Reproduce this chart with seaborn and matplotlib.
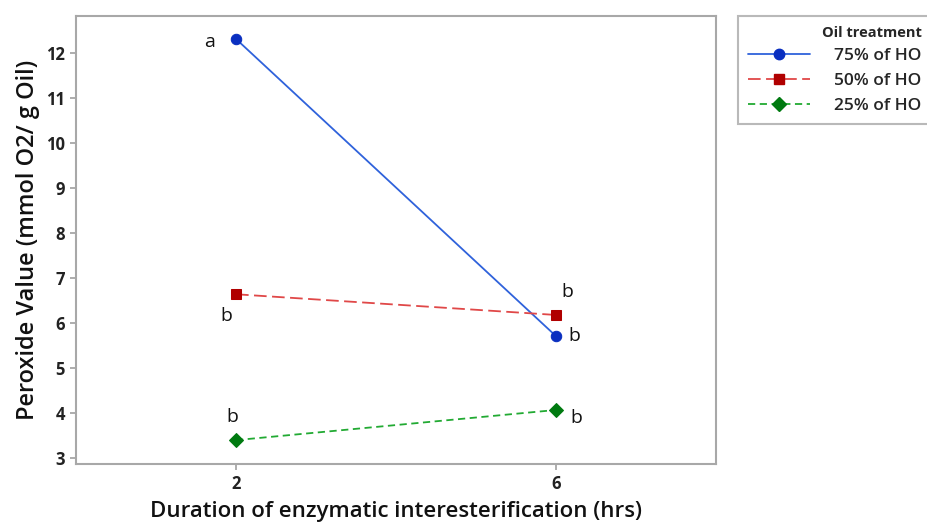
import matplotlib
matplotlib.use("Agg")
import matplotlib.pyplot as plt
import seaborn as sns
import pandas as pd
from matplotlib.lines import Line2D

# Peroxide value by duration of enzymatic interesterification
durations = [2, 6]
treatments = ["75% of HO", "50% of HO", "25% of HO"]
pv_75 = [12.31, 5.71]
pv_50 = [6.64, 6.18]
pv_25 = [3.40, 4.07]
letters_75 = ["a", "b"]
letters_50 = ["b", "b"]
letters_25 = ["b", "b"]

series = {"75% of HO": pv_75, "50% of HO": pv_50, "25% of HO": pv_25}
letters = {"75% of HO": letters_75, "50% of HO": letters_50, "25% of HO": letters_25}

rows = []
for t in treatments:
    for d, v in zip(durations, series[t]):
        rows.append({"duration": d, "pv": v, "treatment": t})
df = pd.DataFrame(rows)

sns.set_theme(style="white")
plt.rcParams["font.family"] = ["Open Sans", "DejaVu Sans"]

line_colors = {"75% of HO": "#2f62db", "50% of HO": "#e04848", "25% of HO": "#22aa33"}
marker_colors = {"75% of HO": "#0a2fc0", "50% of HO": "#b00000", "25% of HO": "#007a10"}
markers = {"75% of HO": "o", "50% of HO": "s", "25% of HO": "D"}
marker_sizes = {"75% of HO": 7.5, "50% of HO": 7.5, "25% of HO": 7}
dashes = {"75% of HO": "", "50% of HO": (7, 3), "25% of HO": (4, 2.5)}

fig = plt.figure(figsize=(9.27, 5.30), dpi=100)
ax = fig.add_axes([76 / 927, 1 - 464 / 530, (716 - 76) / 927, (464 - 16) / 530])

sns.lineplot(data=df, x="duration", y="pv", hue="treatment", style="treatment",
             hue_order=treatments, style_order=treatments,
             palette=line_colors, markers=markers, dashes=dashes,
             markersize=8, linewidth=1.3, legend=False, ax=ax)

for line, t in zip(ax.lines, treatments):
    line.set_markerfacecolor(marker_colors[t])
    line.set_markeredgecolor(marker_colors[t])
    line.set_markersize(marker_sizes[t])

# significance letters placed next to each mean
offsets = {
    ("75% of HO", 0): (-15, -2, "right", "center"),
    ("75% of HO", 1): (9, 0, "left", "center"),
    ("50% of HO", 0): (-7, -9, "center", "top"),
    ("50% of HO", 1): (8, 10, "center", "bottom"),
    ("25% of HO", 0): (-3, 10, "center", "bottom"),
    ("25% of HO", 1): (10, -6, "left", "center"),
}
for t in treatments:
    for i, (d, v) in enumerate(zip(durations, series[t])):
        dx, dy, ha, va = offsets[(t, i)]
        ax.annotate(letters[t][i], (d, v), xytext=(dx, dy), textcoords="offset points",
                    ha=ha, va=va, fontsize=14, color="#111111")

ax.set_xlim(0, 8)
ax.set_ylim(2.87, 12.82)
ax.set_xticks(durations)
ax.set_yticks(range(3, 13))
ax.tick_params(axis="both", which="major", direction="out", length=4, width=1.2,
               color="#a0a0a0", labelsize=12, pad=4, left=True, bottom=True)
for lab in ax.get_xticklabels() + ax.get_yticklabels():
    lab.set_fontweight("bold")
    lab.set_color("#222222")
for sp in ax.spines.values():
    sp.set_color("#a8a8a8")
    sp.set_linewidth(1.5)

ax.set_xlabel("Duration of enzymatic interesterification (hrs)", fontsize=16,
              fontweight="semibold", color="#111111", labelpad=6)
ax.set_ylabel("Peroxide Value (mmol O2/ g Oil)", fontsize=17,
              fontweight="semibold", color="#111111", labelpad=4)

handles = [Line2D([0], [0], color=line_colors[t], lw=1.3,
                  linestyle="-" if dashes[t] == "" else (0, dashes[t]),
                  marker=markers[t], markersize=marker_sizes[t],
                  markerfacecolor=marker_colors[t], markeredgecolor=marker_colors[t])
           for t in treatments]
leg = fig.legend(handles, treatments, title="Oil treatment",
                 loc="upper left", bbox_to_anchor=(738 / 927, 1 - 16 / 530),
                 frameon=True, fancybox=False, edgecolor="#a8a8a8",
                 fontsize=12.5, title_fontsize=10.5, handlelength=3.6,
                 handletextpad=1.4, borderpad=0.55, borderaxespad=0,
                 labelspacing=0.5, alignment="right", markerfirst=True)
leg.get_frame().set_linewidth(1.5)
leg.get_title().set_fontweight("bold")
for txt in leg.get_texts():
    txt.set_fontweight("semibold")

fig.savefig("out.png", dpi=100)
